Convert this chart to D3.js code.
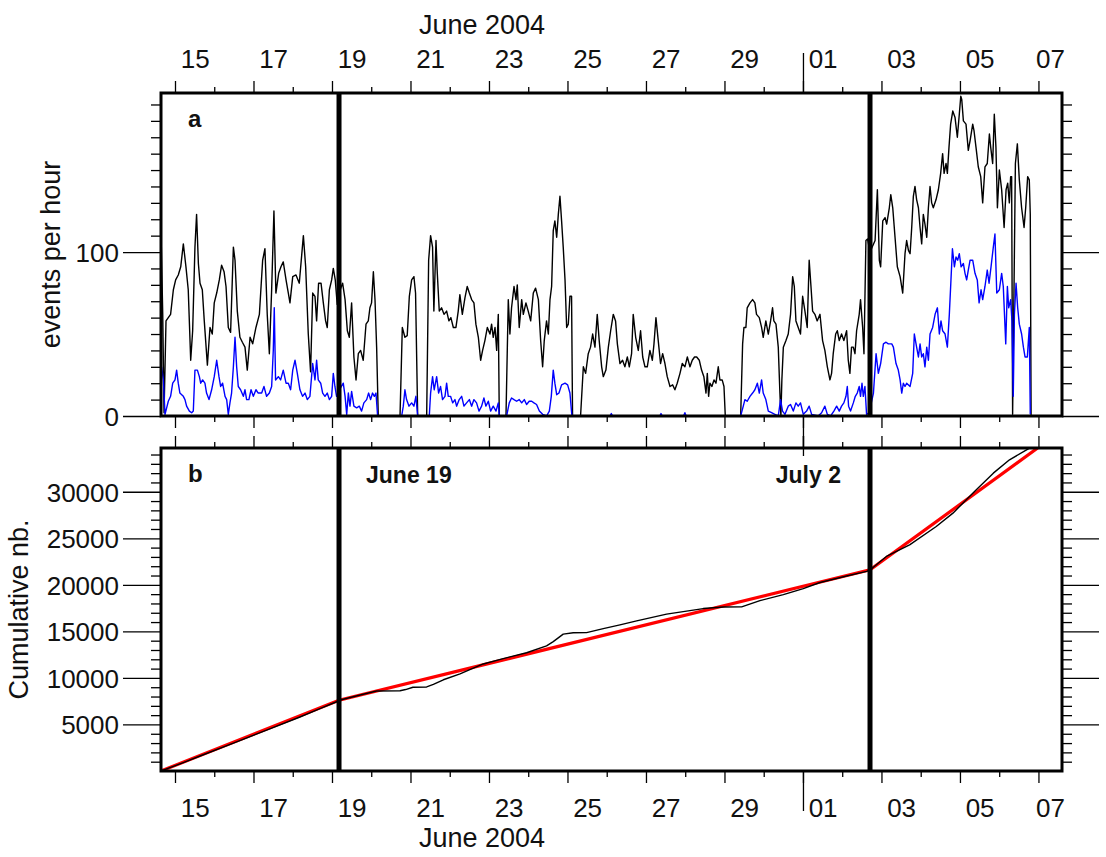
<!DOCTYPE html>
<html>
<head>
<meta charset="utf-8">
<script src="https://cdn.jsdelivr.net/npm/d3@7"></script>
<style>
  body { margin: 0; background: #fff; }
  svg { display: block; font-family: "Liberation Sans", Arial, Helvetica, sans-serif; }
</style>
</head>
<body>
<svg id="chart" width="1106" height="857"></svg>
<script>
// Times are hours counted from 2004-06-14 00:00 UTC.
const T0 = Date.UTC(2004, 5, 14);
const viewHours = [15.44, 566.4];

// events per hour, all events [hour, count]
const ratesAll = [
  [15.5,110],[16.5,62],[17.3,2],[18.5,58],[19.9,60],[21.3,62],[23.0,77],[24.4,83],[26.0,86],[27.5,91],
  [29.1,105],[30.7,91],[32.1,77],[33.6,34],[34.8,52],[36.2,103],[37.2,123],[38.3,93],[39.3,81],[40.7,77],
  [41.9,58],[43.8,31],[45.4,54],[46.8,50],[48.0,69],[49.5,75],[51.1,83],[52.5,92],[54.0,88],[55.2,79],
  [56.6,54],[58.0,51],[59.7,103],[60.7,95],[62.1,64],[63.7,48],[65.2,45],[66.8,42],[68.2,28],[69.9,48],
  [71.5,44],[73.5,54],[75.6,62],[77.6,95],[79.0,102],[80.4,62],[81.7,38],[83.1,77],[84.5,125],[85.7,75],
  [87.4,87],[88.8,91],[90.2,94],[91.9,83],[93.3,75],[94.3,69],[96.0,85],[98.0,86],[100.0,81],[102.5,110],
  [103.9,91],[105.5,50],[106.9,27],[108.2,75],[109.6,73],[110.6,58],[111.8,81],[113.3,81],[114.7,69],[116.1,58],
  [117.1,54],[118.4,77],[119.8,83],[120.8,90],[122.0,83],[123.2,68],[124.3,75],[126.5,81],[128.0,71],[129.4,52],
  [130.6,48],[132.0,69],[133.4,36],[134.7,22],[136.1,38],[137.5,40],[139.1,34],[140.8,56],[142.2,58],[143.2,66],
  [144.2,69],[145.3,88],[146.3,71],[147.3,42],[148.3,0],[161.6,0],[163.0,54],[164.6,48],[166.0,49],[167.3,73],
  [168.7,83],[170.1,85],[171.1,75],[172.4,0],[177.9,0],[179.1,95],[180.3,110],[181.5,103],[182.3,64],[183.6,107],
  [184.4,87],[185.6,64],[187.0,66],[188.5,62],[190.1,64],[191.5,58],[192.7,60],[194.2,54],[195.8,54],[197.2,64],
  [198.2,74],[199.7,62],[201.3,72],[202.7,79],[204.0,75],[205.4,71],[206.8,69],[208.0,56],[209.5,48],[210.9,34],
  [212.1,40],[213.5,46],[215.0,54],[216.6,50],[217.6,56],[218.6,48],[219.7,54],[220.7,40],[221.7,62],[222.3,0],
  [226.4,0],[227.8,71],[228.8,50],[229.8,66],[231.3,79],[232.5,71],[233.3,80],[234.5,54],[236.0,71],[237.0,62],
  [238.6,69],[240.0,64],[241.5,58],[243.1,75],[244.5,78],[246.2,71],[247.6,46],[248.8,30],[249.8,46],[251.2,58],
  [252.3,50],[253.3,71],[254.3,79],[255.3,113],[256.3,119],[257.4,109],[258.4,123],[259.4,134],[260.4,119],[261.4,103],
  [262.5,83],[263.5,54],[264.5,56],[265.5,73],[266.5,73],[267.1,0],[272.0,0],[273.7,30],[275.1,26],[276.7,38],
  [278.1,42],[279.4,50],[280.8,42],[282.2,62],[283.4,46],[284.9,30],[285.9,24],[287.5,28],[289.0,42],[290.4,52],
  [292.0,62],[293.4,58],[294.5,44],[296.1,32],[297.7,34],[299.1,30],[300.6,36],[301.8,30],[303.2,38],[304.2,62],
  [305.7,48],[307.3,40],[308.7,52],[310.0,36],[311.4,30],[312.8,30],[314.4,40],[315.9,34],[316.9,44],[318.1,60],
  [319.5,46],[320.9,32],[322.2,38],[323.6,32],[325.0,24],[326.7,18],[328.3,19],[329.7,16],[331.1,20],[332.8,26],
  [334.2,32],[335.8,30],[337.3,36],[338.9,30],[340.3,34],[341.7,36],[343.0,36],[344.6,34],[346.0,28],[347.4,24],
  [348.7,14],[349.5,26],[350.3,12],[351.1,20],[352.3,18],[353.6,22],[354.8,20],[356.2,30],[357.2,22],[358.6,22],
  [359.7,18],[360.5,0],[369.9,0],[371.1,44],[371.9,54],[373.1,54],[373.9,66],[375.6,69],[377.2,71],[378.6,69],
  [379.6,62],[381.3,60],[382.7,54],[383.7,48],[385.3,58],[386.8,50],[388.2,58],[389.4,66],[390.2,58],[391.5,56],
  [392.9,42],[393.9,14],[394.5,0],[395.1,22],[396.0,42],[397.6,46],[399.0,50],[400.4,62],[401.7,85],[402.7,79],
  [403.7,58],[405.1,54],[406.5,50],[407.8,73],[409.2,64],[410.6,54],[411.8,95],[412.9,79],[413.9,64],[415.3,62],
  [416.7,58],[418.4,62],[420.0,46],[421.4,40],[422.9,30],[424.5,22],[425.5,26],[426.5,38],[428.0,50],[429.0,52],
  [430.2,46],[431.6,50],[433.0,46],[434.7,52],[435.7,34],[436.7,26],[437.7,42],[438.8,42],[439.8,38],[440.8,52],
  [442.4,62],[443.2,71],[444.5,54],[445.3,38],[446.5,107],[447.5,108],[449.0,100],[452.1,107],[453.5,138],[454.7,95],
  [455.5,91],[456.8,119],[458.2,121],[459.2,117],[460.8,127],[461.7,135],[462.9,127],[464.3,109],[465.7,91],[467.4,85],
  [469.0,75],[470.4,99],[471.4,107],[472.5,101],[473.5,99],[474.5,115],[475.5,134],[476.5,140],[477.5,132],[478.6,127],
  [479.6,115],[480.6,105],[481.6,123],[482.6,117],[483.7,109],[484.7,127],[485.7,140],[486.7,130],[487.7,127],[489.4,132],
  [490.8,138],[492.2,148],[493.4,160],[494.3,148],[495.5,154],[496.3,148],[497.3,164],[498.3,178],[499.6,186],[501.0,182],
  [502.4,170],[503.6,184],[504.5,195],[505.1,193],[506.1,180],[507.7,178],[509.1,162],[510.2,168],[511.8,178],[512.6,174],
  [513.8,164],[515.2,152],[516.7,146],[517.9,130],[519.3,152],[520.7,154],[522.0,172],[522.8,164],[524.0,154],[525.0,184],
  [526.0,164],[526.9,127],[528.1,150],[529.5,138],[531.0,115],[532.2,138],[533.2,142],[534.2,130],[535.0,146],[535.6,146],
  [536.2,1],[537.9,154],[539.1,166],[540.3,144],[541.7,127],[543.2,115],[544.2,127],[545.4,146],[546.4,144],[547.0,123],
  [547.5,0]
];

// events per hour, subset drawn in blue [hour, count]
const ratesSubset = [
  [15.8,30],[16.9,22],[17.9,1],[18.9,5],[19.9,9],[21.3,12],[22.6,20],[24.0,22],[25.0,28],[26.0,20],
  [27.0,14],[28.1,13],[29.1,12],[30.1,10],[31.1,6],[32.8,3],[34.2,2],[35.2,3],[36.2,28],[37.7,28],
  [38.9,24],[39.7,20],[40.9,22],[42.3,20],[43.3,14],[44.8,10],[46.4,16],[48.0,24],[49.5,34],[50.9,24],
  [51.9,18],[53.1,20],[54.6,12],[55.6,10],[56.6,1],[57.6,8],[58.6,14],[59.7,30],[60.7,48],[61.7,30],
  [62.7,18],[64.1,16],[65.8,12],[66.8,16],[67.8,10],[69.2,10],[70.5,16],[71.9,12],[73.5,16],[74.9,14],
  [77.0,14],[78.4,18],[80.0,12],[81.7,14],[83.1,18],[84.1,40],[84.7,66],[85.5,22],[87.2,24],[88.6,22],
  [90.2,28],[91.9,20],[93.3,20],[94.7,16],[96.0,28],[97.4,34],[98.8,26],[100.4,16],[102.0,12],[103.5,14],
  [104.9,10],[106.5,12],[108.2,32],[109.6,22],[110.6,34],[111.6,22],[113.1,20],[114.3,14],[115.7,12],[117.1,14],
  [118.4,10],[119.8,12],[120.8,26],[121.8,18],[122.8,12],[124.5,16],[126.9,20],[128.0,12],[129.0,1],[130.0,14],
  [131.0,6],[132.0,15],[133.4,6],[135.1,5],[136.7,6],[138.1,3],[139.5,8],[141.2,10],[142.4,14],[143.6,10],
  [144.8,14],[145.9,12],[146.9,14],[147.9,0],[162.6,0],[163.6,6],[164.6,16],[165.6,10],[167.1,6],[168.7,8],
  [170.1,6],[171.3,12],[172.4,0],[179.5,0],[180.3,14],[181.5,24],[182.5,16],[184.0,24],[185.2,14],[186.4,18],
  [187.6,10],[189.1,12],[190.1,20],[191.1,12],[192.5,12],[193.8,8],[195.2,10],[196.2,6],[197.8,10],[199.3,12],
  [200.7,6],[202.3,8],[204.0,10],[205.4,6],[206.8,10],[208.4,8],[209.9,3],[211.5,6],[212.9,11],[214.1,6],
  [215.6,9],[217.0,3],[218.6,6],[220.3,3],[221.7,8],[222.3,0],[226.8,0],[228.4,8],[229.8,11],[231.3,10],
  [232.9,9],[234.5,10],[236.0,8],[237.6,10],[239.0,7],[240.6,9],[242.1,9],[243.5,8],[245.1,7],[246.8,3],
  [248.8,1],[251.2,0],[252.9,3],[254.1,12],[255.3,28],[256.3,20],[257.4,13],[258.8,14],[260.4,19],[262.5,20],
  [264.1,19],[265.5,14],[266.7,0],[290.0,0],[290.8,1.5],[291.6,0],[320.5,0],[321.2,1.5],[322.0,0],[335.0,0],
  [335.8,2],[336.6,0],[369.9,0],[371.5,6],[372.5,10],[373.9,9],[375.6,12],[377.2,14],[378.6,16],[380.1,20],
  [381.3,14],[382.7,22],[383.7,14],[385.3,10],[386.8,3],[388.8,2],[390.8,1],[392.9,0],[394.3,10],[395.5,3],
  [397.0,1],[399.0,6],[400.4,7],[402.1,3],[403.7,8],[405.1,6],[406.5,8],[408.2,1],[410.2,3],[411.8,6],
  [413.3,1],[417.3,0],[419.4,2],[421.4,6],[422.9,1],[424.9,0],[426.9,3],[428.6,6],[430.2,3],[431.6,6],
  [433.0,8],[434.3,12],[435.1,18],[435.9,6],[437.1,3],[438.8,8],[440.0,12],[441.2,14],[442.4,18],[443.2,12],
  [444.1,20],[444.9,12],[445.9,18],[446.9,1],[448.5,2],[451.1,14],[452.7,38],[454.1,26],[455.5,32],[457.2,44],
  [458.8,45],[460.2,44],[462.3,44],[463.3,42],[464.9,32],[466.3,28],[467.4,22],[468.4,14],[469.4,20],[470.4,18],
  [471.4,20],[473.5,18],[475.1,26],[476.1,50],[477.5,42],[478.6,36],[479.6,44],[480.6,36],[481.6,38],[482.6,30],
  [483.7,42],[484.7,34],[485.7,50],[487.3,54],[488.8,62],[490.2,66],[491.4,50],[492.4,58],[493.4,52],[494.9,50],
  [496.3,42],[497.5,62],[498.5,83],[499.4,102],[500.6,91],[501.6,97],[502.6,95],[503.6,99],[504.7,91],[506.1,93],
  [507.1,87],[508.1,83],[509.1,89],[510.2,95],[511.8,95],[513.2,87],[514.6,83],[515.7,69],[516.9,77],[517.9,71],
  [519.3,79],[520.7,89],[521.8,81],[523.0,91],[524.4,103],[525.4,111],[526.5,75],[528.1,77],[529.5,87],[530.5,79],
  [532.0,44],[533.0,79],[533.8,66],[535.0,71],[535.8,58],[536.6,12],[537.3,62],[538.3,81],[539.3,66],[540.3,56],
  [541.7,50],[542.8,42],[543.8,36],[545.2,36],[546.4,54],[547.0,1]
];

// cumulative number of events [hour, count]
const cumulative = [
  [15.44,0],[29.1,900],[39.3,1610],[59.7,2990],[80.0,4390],[100.4,5800],[113.0,6720],[122.8,7440],
  [124.3,7600],[126.9,7710],[139.1,8240],[147.3,8600],[161.6,8620],[165.0,8750],[169.5,9000],[177.9,9030],
  [182.0,9300],[188.1,9800],[198.3,10430],[205.0,10950],[212.5,11500],[224.7,12080],[239.0,12700],[251.2,13450],
  [255.3,13900],[261.4,14700],[267.5,14850],[275.7,14870],[285.9,15300],[296.1,15700],[306.3,16130],[324.6,16850],
  [347.0,17450],[359.3,17620],[370.5,17630],[381.7,18300],[396.0,18950],[408.2,19600],[418.4,20250],[434.7,20950],
  [446.9,21450],[449.0,21600],[459.0,23050],[473.2,24300],[489.5,26270],[499.7,27700],[512.9,30030],[524.4,32000],
  [534.3,33430],[545.5,34570],[547.5,34800]
];

// piecewise linear rate fit through the two break times [hour, count]
const fitKnots = [[15.44,0],[124.3,7600],[449.0,21610],[551.5,34700]];

// rate-change times
const breakHours = [124.3, 449.0];
const breakLabels = ["June 19", "July 2"];

const rateTicks = [0, 100];
const countTicks = [5000, 10000, 15000, 20000, 25000, 30000];
const monthTitle = "June 2004";
const rateTitle = "events per hour";
const countTitle = "Cumulative nb.";
const panelLetters = ["a", "b"];

// ---------------------------------------------------------------------------
const svg = d3.select("#chart");
const L = 161, R = 1062;
const PA = { top: 93, bottom: 416 };
const PB = { top: 448, bottom: 771 };
const FONT = "'Liberation Sans', Arial, Helvetica, sans-serif";

const toDate = h => new Date(T0 + h * 3600e3);
const x = d3.scaleUtc().domain(viewHours.map(toDate)).range([L, R]);
const yA = d3.scaleLinear().domain([0, 197]).range([PA.bottom, PA.top]);
const yB = d3.scaleLinear().domain([0, 34700]).range([PB.bottom, PB.top]);

const [d0, d1] = x.domain();
const days = d3.utcDay.range(d0, d1);
const oddDays = days.filter(d => d.getUTCDate() % 2 === 1);
const evenDays = days.filter(d => d.getUTCDate() % 2 === 0);
const monthStarts = d3.utcMonth.range(d0, d1);
const labelDays = oddDays.map(d => d3.utcHour.offset(d, 12)).filter(d => d < d1);

function styleAxis(g, size) {
  g.select(".domain").remove();
  g.attr("font-family", FONT).attr("font-size", size);
  g.selectAll(".tick line").attr("stroke", "#000").attr("stroke-width", 1.3);
  g.selectAll("text").attr("fill", "#111");
}

function timeAxis(yPos, orient, labelled, monthLen) {
  const make = orient === "top" ? d3.axisTop : d3.axisBottom;
  const g = svg.append("g").attr("transform", `translate(0,${yPos})`);
  g.append("g").call(make(x).tickValues(oddDays).tickSize(12).tickFormat("")).call(styleAxis, 26);
  g.append("g").call(make(x).tickValues(evenDays).tickSize(6).tickFormat("")).call(styleAxis, 26);
  g.append("g").call(make(x).tickValues(monthStarts).tickSize(monthLen).tickFormat("")).call(styleAxis, 26);
  if (labelled) {
    const lab = g.append("g")
      .call(make(x).tickValues(labelDays).tickSize(0)
        .tickPadding(orient === "top" ? 25 : 27.5)
        .tickFormat(d3.utcFormat("%d")))
      .call(styleAxis, 26);
    // keep the last label from running past the frame
    lab.selectAll(".tick").each(function () {
      const t = d3.select(this).select("text");
      const bb = t.node().getBBox();
      const tr = this.transform.baseVal.consolidate().matrix.e;
      const right = tr + bb.x + bb.width;
      if (right > R + 3) t.attr("x", R + 3 - right);
    });
  }
}

function valueAxes(scale, majors, minors) {
  const gl = svg.append("g").attr("transform", `translate(${L},0)`);
  gl.append("g").call(d3.axisLeft(scale).tickValues(minors).tickSize(10).tickFormat("")).call(styleAxis, 26);
  gl.append("g").call(d3.axisLeft(scale).tickValues(majors).tickSize(38).tickPadding(4)
      .tickFormat(d3.format("d"))).call(styleAxis, 26);
  gl.selectAll("text").attr("dy", "0.36em");
  const gr = svg.append("g").attr("transform", `translate(${R},0)`);
  gr.append("g").call(d3.axisRight(scale).tickValues(minors).tickSize(10).tickFormat("")).call(styleAxis, 26);
  gr.append("g").call(d3.axisRight(scale).tickValues(majors).tickSize(37).tickFormat("")).call(styleAxis, 26);
}

// clip regions
const defs = svg.append("defs");
[["clipA", PA], ["clipB", PB]].forEach(([id, p]) => {
  defs.append("clipPath").attr("id", id)
    .append("rect").attr("x", L).attr("y", p.top).attr("width", R - L).attr("height", p.bottom - p.top);
});

// ---- panel a: hourly rates
const lineA = d3.line().x(d => x(toDate(d[0]))).y(d => yA(d[1]));
const gA = svg.append("g").attr("clip-path", "url(#clipA)");
gA.append("path").datum(ratesAll).attr("d", lineA)
  .attr("fill", "none").attr("stroke", "#000").attr("stroke-width", 1.4).attr("stroke-linejoin", "round");
gA.append("path").datum(ratesSubset).attr("d", lineA)
  .attr("fill", "none").attr("stroke", "#0000ff").attr("stroke-width", 1.4).attr("stroke-linejoin", "round");

// ---- panel b: cumulative count and fit
const lineB = d3.line().x(d => x(toDate(d[0]))).y(d => yB(d[1]));
const gB = svg.append("g").attr("clip-path", "url(#clipB)");
gB.append("path").datum(fitKnots).attr("d", lineB)
  .attr("fill", "none").attr("stroke", "#ff0000").attr("stroke-width", 3.2);
gB.append("path").datum(cumulative).attr("d", lineB)
  .attr("fill", "none").attr("stroke", "#000").attr("stroke-width", 1.4).attr("stroke-linejoin", "round");

// break markers in both panels
[PA, PB].forEach(p => {
  svg.append("g").selectAll("line").data(breakHours).join("line")
    .attr("x1", d => x(toDate(d))).attr("x2", d => x(toDate(d)))
    .attr("y1", p.top).attr("y2", p.bottom)
    .attr("stroke", "#000").attr("stroke-width", 5);
});
svg.append("text").attr("x", x(toDate(breakHours[0])) + 27).attr("y", PB.top + 35)
  .attr("font-family", FONT).attr("font-size", 23).attr("font-weight", "bold").attr("fill", "#111")
  .text(breakLabels[0]);
svg.append("text").attr("x", x(toDate(breakHours[1])) - 29).attr("y", PB.top + 35)
  .attr("text-anchor", "end")
  .attr("font-family", FONT).attr("font-size", 23).attr("font-weight", "bold").attr("fill", "#111")
  .text(breakLabels[1]);

// axes
timeAxis(PA.top, "top", true, 40);
timeAxis(PA.bottom, "bottom", false, 40);
timeAxis(PB.top, "top", false, 12);
timeAxis(PB.bottom, "bottom", true, 40);

valueAxes(yA, rateTicks, d3.range(10, 197, 10).filter(v => !rateTicks.includes(v)));
valueAxes(yB, countTicks, d3.range(1000, 34700, 1000).filter(v => v % 5000 !== 0));

// frames
[PA, PB].forEach(p => {
  svg.append("rect").attr("x", L).attr("y", p.top).attr("width", R - L).attr("height", p.bottom - p.top)
    .attr("fill", "none").attr("stroke", "#000").attr("stroke-width", 3);
});

// titles
const monthCenter = (L + x(monthStarts[0])) / 2;
svg.append("text").attr("x", monthCenter).attr("y", 34).attr("text-anchor", "middle")
  .attr("font-family", FONT).attr("font-size", 27).attr("fill", "#111").text(monthTitle);
svg.append("text").attr("x", monthCenter).attr("y", 847).attr("text-anchor", "middle")
  .attr("font-family", FONT).attr("font-size", 27).attr("fill", "#111").text(monthTitle);

svg.append("text").attr("transform", `translate(60,${(PA.top + PA.bottom) / 2}) rotate(-90)`)
  .attr("text-anchor", "middle").attr("font-family", FONT).attr("font-size", 27).attr("fill", "#111")
  .text(rateTitle);
svg.append("text").attr("transform", `translate(27.5,${(PB.top + PB.bottom) / 2}) rotate(-90)`)
  .attr("text-anchor", "middle").attr("font-family", FONT).attr("font-size", 27).attr("fill", "#111")
  .text(countTitle);

// panel letters
[[PA, panelLetters[0]], [PB, panelLetters[1]]].forEach(([p, t]) => {
  svg.append("text").attr("x", 188).attr("y", p.top + 34)
    .attr("font-family", FONT).attr("font-size", 24).attr("font-weight", "bold").attr("fill", "#111")
    .text(t);
});
</script>
</body>
</html>
